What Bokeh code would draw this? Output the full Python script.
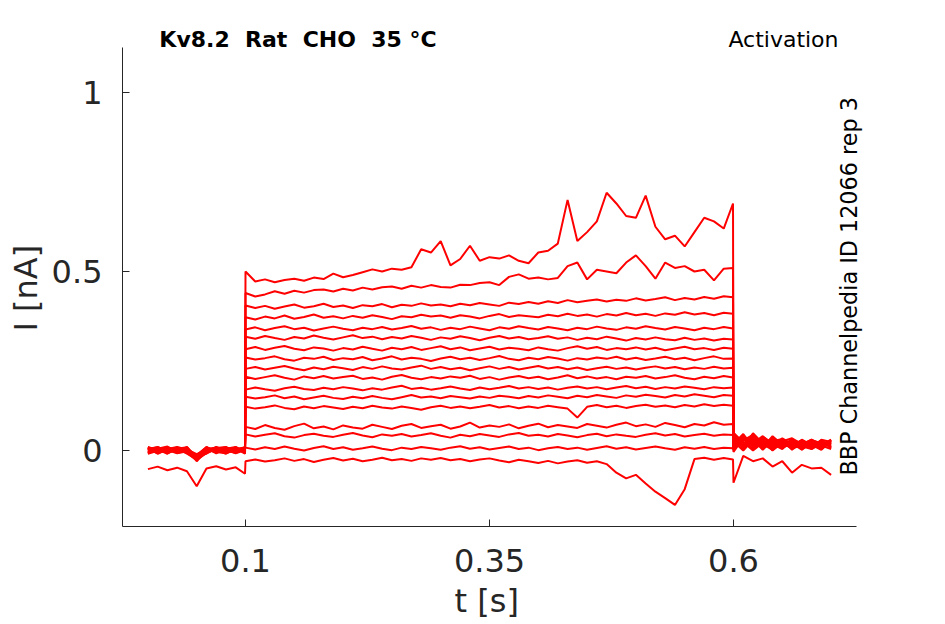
import math
from bokeh.plotting import figure
from bokeh.models import Range1d, FixedTicker, Label, Title
from bokeh.embed import file_html
from bokeh.resources import INLINE

# ---------------- data ----------------
TITLE = "Kv8.2  Rat  CHO  35 °C"
PROTOCOL = "Activation"
SOURCE = "BBP Channelpedia ID 12066 rep 3"
X_LABEL = "t [s]"
Y_LABEL = "I [nA]"

X_TICKS = [0.1, 0.35, 0.6]
X_TICK_LABELS = ["0.1", "0.35", "0.6"]
Y_TICKS = [0, 0.5, 1]
Y_TICK_LABELS = ["0", "0.5", "1"]

# sample times (s): before step, during step, after step
T_PRE = [round(0.01 * k, 2) for k in range(10)] + [0.0995]
T_STEP = [round(0.10 + 0.01 * k, 2) for k in range(50)] + [0.5995]
T_POST = [round(0.60 + 0.01 * k, 2) for k in range(11)]

# currents (nA) per sweep
PRE = [
    [0.004, -0.006, 0.008, -0.003, 0.006, -0.022, 0.002, -0.005, 0.007, -0.002, 0.004],
    [-0.005, 0.007, -0.002, 0.009, -0.006, -0.018, 0.005, 0.008, -0.004, 0.006, -0.003],
    [0.009, -0.003, 0.005, -0.008, 0.002, -0.026, -0.006, 0.003, 0.009, -0.005, 0.007],
    [-0.008, 0.004, -0.007, 0.006, -0.004, -0.014, 0.009, -0.003, 0.004, 0.008, -0.006],
    [0.002, 0.010, -0.004, 0.003, 0.008, -0.030, 0.001, 0.006, -0.007, 0.003, 0.009],
    [0.006, -0.009, 0.003, -0.005, 0.010, -0.020, -0.004, 0.009, 0.002, -0.008, 0.001],
    [-0.003, 0.005, 0.011, -0.006, -0.002, -0.012, 0.007, -0.008, 0.005, 0.010, -0.004],
    [0.010, 0.001, -0.005, 0.008, -0.009, -0.024, 0.004, 0.002, -0.009, 0.004, 0.008],
    [-0.007, 0.008, 0.002, -0.004, 0.005, -0.016, -0.009, 0.006, 0.008, -0.003, 0.002],
    [0.003, -0.004, 0.009, 0.001, -0.007, -0.028, 0.006, -0.002, 0.003, 0.007, -0.007],
    [0.007, -0.008, 0.004, 0.010, 0.003, -0.010, -0.002, 0.010, -0.006, 0.001, 0.005],
    [-0.004, 0.003, -0.009, 0.005, 0.009, -0.021, 0.008, -0.006, 0.006, -0.006, 0.010],
    [0.005, 0.009, 0.000, -0.007, -0.003, -0.017, 0.003, 0.004, -0.002, 0.009, -0.005],
    [-0.009, -0.001, 0.006, 0.002, 0.007, -0.027, -0.007, 0.007, 0.010, -0.004, 0.003],
    [0.001, 0.006, -0.008, 0.007, -0.005, -0.013, 0.010, -0.004, -0.008, 0.005, -0.009],
    [0.008, -0.005, 0.003, -0.002, 0.004, -0.019, -0.003, 0.008, 0.001, -0.007, 0.006],
    [-0.052, -0.045, -0.055, -0.048, -0.058, -0.100, -0.050, -0.044, -0.053, -0.047, -0.065],
]

STEP = [
    [0.500, 0.472, 0.478, 0.470, 0.476, 0.480, 0.474, 0.483, 0.479, 0.494,
     0.484, 0.490, 0.498, 0.506, 0.500, 0.508, 0.505, 0.512, 0.562, 0.553,
     0.585, 0.517, 0.535, 0.572, 0.530, 0.540, 0.536, 0.545, 0.530, 0.523,
     0.553, 0.558, 0.578, 0.700, 0.585, 0.610, 0.640, 0.720, 0.690, 0.655,
     0.650, 0.712, 0.625, 0.590, 0.600, 0.570, 0.610, 0.650, 0.640, 0.620, 0.690],
    [0.440, 0.430, 0.436, 0.445, 0.438, 0.446, 0.441, 0.448, 0.450, 0.444,
     0.452, 0.447, 0.455, 0.450, 0.456, 0.458, 0.452, 0.460, 0.455, 0.462,
     0.457, 0.455, 0.463, 0.462, 0.468, 0.470, 0.462, 0.485, 0.492, 0.480,
     0.483, 0.478, 0.482, 0.515, 0.525, 0.478, 0.505, 0.500, 0.495, 0.525,
     0.545, 0.515, 0.480, 0.525, 0.510, 0.515, 0.500, 0.505, 0.475, 0.508, 0.510],
    [0.405, 0.398, 0.404, 0.396, 0.402, 0.408, 0.399, 0.403, 0.410, 0.401,
     0.405, 0.398, 0.406, 0.403, 0.409, 0.400, 0.407, 0.404, 0.411, 0.405,
     0.408, 0.403, 0.410, 0.406, 0.412, 0.408, 0.404, 0.413, 0.409, 0.415,
     0.410, 0.417, 0.412, 0.420, 0.414, 0.418, 0.422, 0.416, 0.421, 0.418,
     0.425, 0.419, 0.423, 0.428, 0.420, 0.426, 0.422, 0.429, 0.424, 0.431, 0.428],
    [0.372, 0.366, 0.374, 0.369, 0.377, 0.368, 0.373, 0.380, 0.371, 0.375,
     0.369, 0.376, 0.371, 0.378, 0.373, 0.367, 0.375, 0.372, 0.379, 0.374,
     0.377, 0.371, 0.378, 0.374, 0.369, 0.376, 0.381, 0.373, 0.378, 0.375,
     0.372, 0.379, 0.375, 0.382, 0.376, 0.380, 0.374, 0.381, 0.377, 0.384,
     0.378, 0.382, 0.376, 0.383, 0.379, 0.386, 0.380, 0.384, 0.378, 0.385, 0.382],
    [0.338, 0.344, 0.336, 0.342, 0.347, 0.339, 0.343, 0.335, 0.341, 0.346,
     0.340, 0.336, 0.343, 0.339, 0.345, 0.338, 0.342, 0.348, 0.340, 0.344,
     0.337, 0.343, 0.339, 0.346, 0.341, 0.336, 0.344, 0.340, 0.347, 0.342,
     0.338, 0.345, 0.341, 0.336, 0.343, 0.339, 0.346, 0.341, 0.337, 0.344,
     0.340, 0.347, 0.342, 0.338, 0.345, 0.341, 0.336, 0.343, 0.339, 0.345, 0.341],
    [0.318, 0.312, 0.320, 0.314, 0.309, 0.317, 0.313, 0.321, 0.315, 0.310,
     0.316, 0.322, 0.314, 0.318, 0.311, 0.317, 0.313, 0.320, 0.315, 0.309,
     0.316, 0.312, 0.319, 0.314, 0.308, 0.315, 0.320, 0.313, 0.317, 0.311,
     0.314, 0.319, 0.312, 0.316, 0.309, 0.315, 0.311, 0.318, 0.313, 0.307,
     0.314, 0.310, 0.316, 0.311, 0.308, 0.315, 0.309, 0.313, 0.307, 0.312, 0.310],
    [0.283, 0.289, 0.281, 0.287, 0.292, 0.284, 0.280, 0.288, 0.285, 0.279,
     0.286, 0.282, 0.290, 0.284, 0.279, 0.287, 0.283, 0.289, 0.281, 0.286,
     0.291, 0.283, 0.288, 0.280, 0.285, 0.290, 0.282, 0.287, 0.284, 0.280,
     0.288, 0.283, 0.279, 0.286, 0.291, 0.284, 0.289, 0.281, 0.286, 0.283,
     0.288, 0.282, 0.287, 0.280, 0.285, 0.290, 0.283, 0.286, 0.281, 0.287, 0.284],
    [0.260, 0.254, 0.258, 0.263, 0.255, 0.251, 0.259, 0.256, 0.262, 0.253,
     0.258, 0.255, 0.261, 0.252, 0.257, 0.263, 0.254, 0.259, 0.256, 0.250,
     0.257, 0.262, 0.255, 0.259, 0.253, 0.258, 0.264, 0.256, 0.252, 0.259,
     0.255, 0.261, 0.257, 0.251, 0.258, 0.254, 0.260, 0.256, 0.262, 0.254,
     0.259, 0.253, 0.257, 0.262, 0.255, 0.259, 0.252, 0.258, 0.263, 0.256, 0.257],
    [0.228, 0.233, 0.226, 0.231, 0.236, 0.229, 0.224, 0.232, 0.227, 0.234,
     0.230, 0.225, 0.233, 0.228, 0.235, 0.229, 0.226, 0.232, 0.237, 0.228,
     0.233, 0.227, 0.231, 0.224, 0.230, 0.235, 0.228, 0.233, 0.226, 0.231,
     0.236, 0.229, 0.233, 0.227, 0.232, 0.225, 0.230, 0.234, 0.228, 0.232,
     0.226, 0.231, 0.235, 0.229, 0.233, 0.227, 0.232, 0.228, 0.234, 0.229, 0.231],
    [0.206, 0.200, 0.205, 0.210, 0.203, 0.198, 0.207, 0.202, 0.208, 0.201,
     0.205, 0.209, 0.200, 0.204, 0.198, 0.206, 0.211, 0.203, 0.199, 0.205,
     0.201, 0.207, 0.203, 0.209, 0.200, 0.205, 0.198, 0.204, 0.208, 0.202,
     0.206, 0.199, 0.204, 0.210, 0.202, 0.207, 0.201, 0.205, 0.199, 0.206,
     0.203, 0.208, 0.201, 0.205, 0.210, 0.203, 0.199, 0.206, 0.202, 0.208, 0.204],
    [0.170, 0.176, 0.171, 0.167, 0.174, 0.178, 0.172, 0.169, 0.175, 0.171,
     0.177, 0.173, 0.168, 0.174, 0.170, 0.176, 0.181, 0.172, 0.175, 0.170,
     0.174, 0.179, 0.173, 0.169, 0.176, 0.171, 0.175, 0.180, 0.173, 0.177,
     0.172, 0.176, 0.170, 0.175, 0.179, 0.173, 0.177, 0.171, 0.176, 0.180,
     0.174, 0.178, 0.172, 0.177, 0.173, 0.179, 0.175, 0.171, 0.177, 0.174, 0.176],
    [0.150, 0.145, 0.149, 0.154, 0.146, 0.151, 0.143, 0.148, 0.153, 0.147,
     0.144, 0.150, 0.146, 0.152, 0.147, 0.143, 0.149, 0.155, 0.148, 0.151,
     0.146, 0.152, 0.149, 0.145, 0.151, 0.147, 0.153, 0.150, 0.146, 0.152,
     0.148, 0.154, 0.150, 0.146, 0.153, 0.149, 0.155, 0.151, 0.147, 0.154,
     0.150, 0.156, 0.152, 0.148, 0.155, 0.151, 0.157, 0.153, 0.149, 0.155, 0.153],
    [0.122, 0.117, 0.121, 0.126, 0.119, 0.115, 0.123, 0.118, 0.124, 0.120,
     0.116, 0.122, 0.118, 0.125, 0.120, 0.117, 0.123, 0.119, 0.114, 0.121,
     0.125, 0.119, 0.123, 0.118, 0.122, 0.127, 0.120, 0.124, 0.118, 0.123,
     0.119, 0.125, 0.121, 0.117, 0.092, 0.122, 0.127, 0.121, 0.125, 0.119,
     0.124, 0.128, 0.122, 0.126, 0.121, 0.127, 0.123, 0.129, 0.124, 0.128, 0.125],
    [0.066, 0.060, 0.071, 0.063, 0.058, 0.068, 0.075, 0.062, 0.067, 0.059,
     0.070, 0.064, 0.061, 0.072, 0.066, 0.060, 0.069, 0.074, 0.063, 0.068,
     0.072, 0.061, 0.067, 0.078, 0.064, 0.070, 0.066, 0.073, 0.062, 0.069,
     0.075, 0.065, 0.071, 0.067, 0.063, 0.074, 0.069, 0.064, 0.072, 0.078,
     0.068, 0.073, 0.066, 0.077, 0.071, 0.065, 0.074, 0.070, 0.079, 0.072, 0.074],
    [0.045, 0.039, 0.044, 0.048, 0.040, 0.036, 0.043, 0.047, 0.041, 0.038,
     0.044, 0.049, 0.042, 0.037, 0.045, 0.041, 0.046, 0.039, 0.043, 0.048,
     0.041, 0.036, 0.044, 0.040, 0.046, 0.042, 0.038, 0.045, 0.049, 0.041,
     0.044, 0.039, 0.046, 0.042, 0.037, 0.043, 0.047, 0.040, 0.045, 0.041,
     0.038, 0.044, 0.048, 0.042, 0.046, 0.039, 0.043, 0.047, 0.041, 0.045, 0.043],
    [0.008, 0.003, 0.009, 0.004, 0.011, 0.005, 0.000, 0.007, 0.012, 0.004,
     0.009, 0.002, 0.006, 0.011, 0.005, 0.001, 0.008, 0.004, 0.010, 0.006,
     0.002, 0.008, 0.012, 0.005, 0.009, 0.003, 0.007, 0.011, 0.004, 0.008,
     0.001, 0.006, 0.010, 0.004, 0.008, 0.002, 0.007, 0.012, 0.005, 0.009,
     0.003, 0.007, 0.011, 0.006, 0.002, 0.009, 0.005, 0.010, 0.004, 0.008, 0.006],
    [-0.030, -0.025, -0.031, -0.027, -0.022, -0.029, -0.024, -0.032, -0.026, -0.021,
     -0.028, -0.023, -0.030, -0.026, -0.020, -0.027, -0.024, -0.029, -0.022, -0.026,
     -0.021, -0.027, -0.024, -0.030, -0.025, -0.022, -0.028, -0.033, -0.026, -0.030,
     -0.035, -0.029, -0.036, -0.031, -0.027, -0.034, -0.030, -0.038, -0.062, -0.078,
     -0.068, -0.092, -0.115, -0.133, -0.152, -0.108, -0.024, -0.020, -0.026, -0.021, -0.025],
]

POST = [
    [0.030, 0.012, 0.028, 0.006, 0.024, 0.010, 0.022, 0.008, 0.019, 0.012, 0.025],
    [-0.004, 0.035, 0.004, 0.026, 0.015, 0.030, 0.005, 0.021, 0.011, 0.027, 0.009],
    [0.045, 0.008, 0.040, 0.018, 0.002, 0.024, 0.014, 0.028, 0.004, 0.019, 0.015],
    [0.010, 0.042, 0.016, 0.033, 0.008, 0.018, 0.029, 0.003, 0.024, 0.008, 0.030],
    [0.025, 0.000, 0.030, 0.012, 0.036, 0.006, 0.026, 0.016, 0.030, 0.014, 0.004],
    [0.050, 0.020, 0.006, 0.038, 0.020, 0.028, 0.002, 0.024, 0.010, 0.026, 0.018],
    [0.002, 0.028, 0.044, 0.004, 0.028, 0.012, 0.032, 0.010, 0.020, 0.006, 0.022],
    [0.035, 0.015, 0.022, 0.026, 0.010, 0.034, 0.018, 0.006, 0.028, 0.021, 0.012],
    [0.018, 0.046, 0.010, 0.030, 0.000, 0.022, 0.008, 0.030, 0.016, 0.002, 0.026],
    [0.040, 0.004, 0.034, 0.016, 0.032, 0.014, 0.024, 0.012, 0.004, 0.024, 0.010],
    [0.008, 0.030, 0.020, 0.040, 0.018, 0.004, 0.030, 0.020, 0.026, 0.016, 0.030],
    [0.048, 0.024, 0.000, 0.022, 0.026, 0.032, 0.012, 0.026, 0.012, 0.028, 0.006],
    [0.015, 0.038, 0.026, 0.008, 0.040, 0.016, 0.020, 0.002, 0.022, 0.010, 0.020],
    [0.028, 0.010, 0.048, 0.020, 0.006, 0.026, 0.034, 0.018, 0.030, 0.018, 0.014],
    [0.000, 0.040, 0.014, 0.034, 0.022, 0.010, 0.016, 0.028, 0.006, 0.030, 0.024],
    [0.038, 0.022, 0.030, 0.002, 0.030, 0.020, 0.006, 0.014, 0.024, 0.004, 0.028],
    [-0.090, -0.015, -0.030, -0.022, -0.045, -0.030, -0.062, -0.040, -0.050, -0.048, -0.068],
]

# visible axes extent (data units) and the larger drawing area that also holds the texts
X_AXIS_SPAN = (-0.026025, 0.726025)
Y_AXIS_SPAN = (-0.212291, 1.125698)
X_VIEW = (-0.026025, 0.760860)
Y_VIEW = (-0.212291, 1.215083)

# ---------------- figure ----------------
FONT = "DejaVu Sans"
INK = "#262626"

p = figure(
    frame_width=768, frame_height=511,
    min_border_left=122, min_border_right=55,
    min_border_top=15, min_border_bottom=98,
    x_range=Range1d(*X_VIEW), y_range=Range1d(*Y_VIEW),
    output_backend="svg", toolbar_location=None,
    background_fill_color="white", border_fill_color="white",
)
p.outline_line_color = None
p.grid.visible = False

for ax, ticks, labels, span in ((p.xaxis[0], X_TICKS, X_TICK_LABELS, X_AXIS_SPAN),
                                (p.yaxis[0], Y_TICKS, Y_TICK_LABELS, Y_AXIS_SPAN)):
    ax.bounds = span
    ax.ticker = FixedTicker(ticks=ticks)
    ax.major_label_overrides = {t: l for t, l in zip(ticks, labels)}
    ax.major_tick_in = 7
    ax.major_tick_out = 0
    ax.minor_tick_in = 0
    ax.minor_tick_out = 0
    ax.axis_line_color = INK
    ax.major_tick_line_color = INK
    ax.major_label_text_font = FONT
    ax.major_label_text_font_size = "32px"
    ax.major_label_text_color = INK

p.xaxis.major_label_standoff = 22
p.yaxis.major_label_standoff = 20

# axis titles, placed along the visible axis span rather than the wider frame
p.add_layout(Title(text=X_LABEL, align="left", offset=332, standoff=11,
                   text_font=FONT, text_font_size="32px", text_font_style="normal",
                   text_color=INK), "below")
p.add_layout(Title(text=Y_LABEL, align="left", offset=195, standoff=7,
                   text_font=FONT, text_font_size="32px", text_font_style="normal",
                   text_color=INK), "left")

T_ALL = T_PRE + T_STEP + T_POST
for pre, step, post in zip(PRE, STEP, POST):
    p.line(T_ALL, pre + step + post, line_color="#ff0000", line_width=2)


def keep_spaces(s):
    # SVG collapses runs of spaces; keep the double gaps visible
    return s.replace("  ", " \u00a0")


p.add_layout(Label(x=0.1538, y=1.148, text=keep_spaces(TITLE), text_align="center",
                   text_baseline="alphabetic", text_font=FONT,
                   text_font_size="22px", text_font_style="bold", text_color="black"))
p.add_layout(Label(x=0.7076, y=1.148, text=PROTOCOL, text_align="right",
                   text_baseline="alphabetic", text_font=FONT,
                   text_font_size="22px", text_color="black"))
p.add_layout(Label(x=0.7180, y=-0.0698, text=SOURCE, angle=math.pi / 2,
                   text_align="left", text_baseline="alphabetic", text_font=FONT,
                   text_font_size="22.3px", text_color="black"))

open("out.html", "w").write(file_html(p, INLINE))
